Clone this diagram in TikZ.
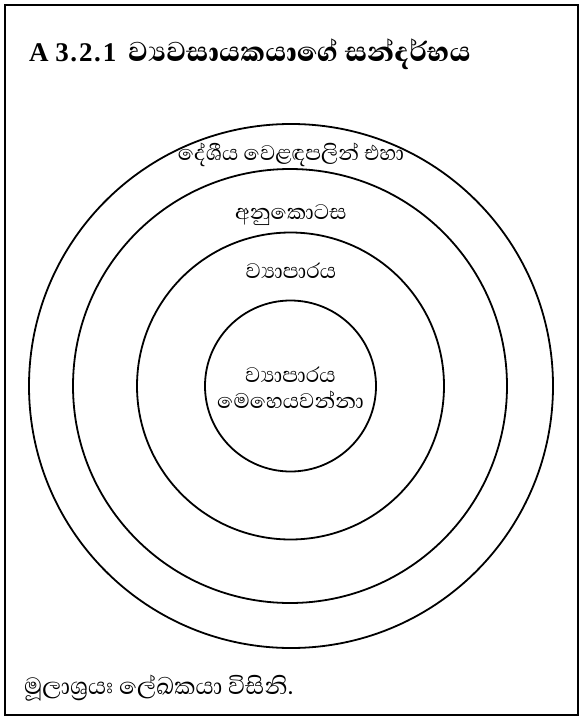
\documentclass[tikz,border=0pt]{standalone}
\usepackage{fontspec}
\newfontfamily\sinfont[Script=Sinhala]{Abhaya Libre}
\newfontfamily\sinbold[Script=Sinhala]{Abhaya Libre Bold}
\newfontfamily\numfont{Liberation Serif}
\usetikzlibrary{positioning}
\tikzset{ring/.style={draw, circle, line width=1.8pt, inner sep=0pt},
  lbl/.style={font=\sinfont\fontsize{27}{26}\selectfont, align=center, inner sep=1pt}}

\begin{document}
\begin{tikzpicture}[x=1pt, y=-1pt]
\useasboundingbox (0,0) rectangle (581,719);
\draw[line width=1.8pt] (5,5) rectangle (578,715);
\node[ring, minimum size=524pt] (outer) at (291,386) {};
\node[ring, minimum size=434pt] (industry) at (290,386) {};
\node[ring, minimum size=307pt] (firm) at (290.5,386) {};
\node[ring, minimum size=171pt] (owner) at (290.5,386) {};
\node[lbl] (outertxt) at (291,155) {දේශීය වෙළඳපලින් එහා};
\node[lbl] (industrytxt) at (291,215) {අනුකොටස};
\node[lbl] (firmtxt) at (291,271) {ව්^^^^200dයාපාරය};
\node[lbl] (ownertxt) at (290.5,388) {ව්^^^^200dයාපාරය\\මෙහෙයවන්නා};
\node[anchor=base west, inner sep=0pt, font=\numfont\bfseries\fontsize{27}{30}\selectfont] (title) at (29,62)
  {A 3\kern1.5pt.\kern2pt2\kern1.5pt.\kern2pt1\hspace{5pt} {\sinbold\fontsize{35}{40}\selectfont ව්^^^^200dයවසායකයාගේ සන්දර්භය}};
\node[anchor=base west, inner sep=0pt, font=\sinfont\fontsize{30}{32}\selectfont] (source) at (24,694)
  {මූලාශ්^^^^200dරයඃ ලේඛකයා විසිනි.};
\end{tikzpicture}
\end{document}
